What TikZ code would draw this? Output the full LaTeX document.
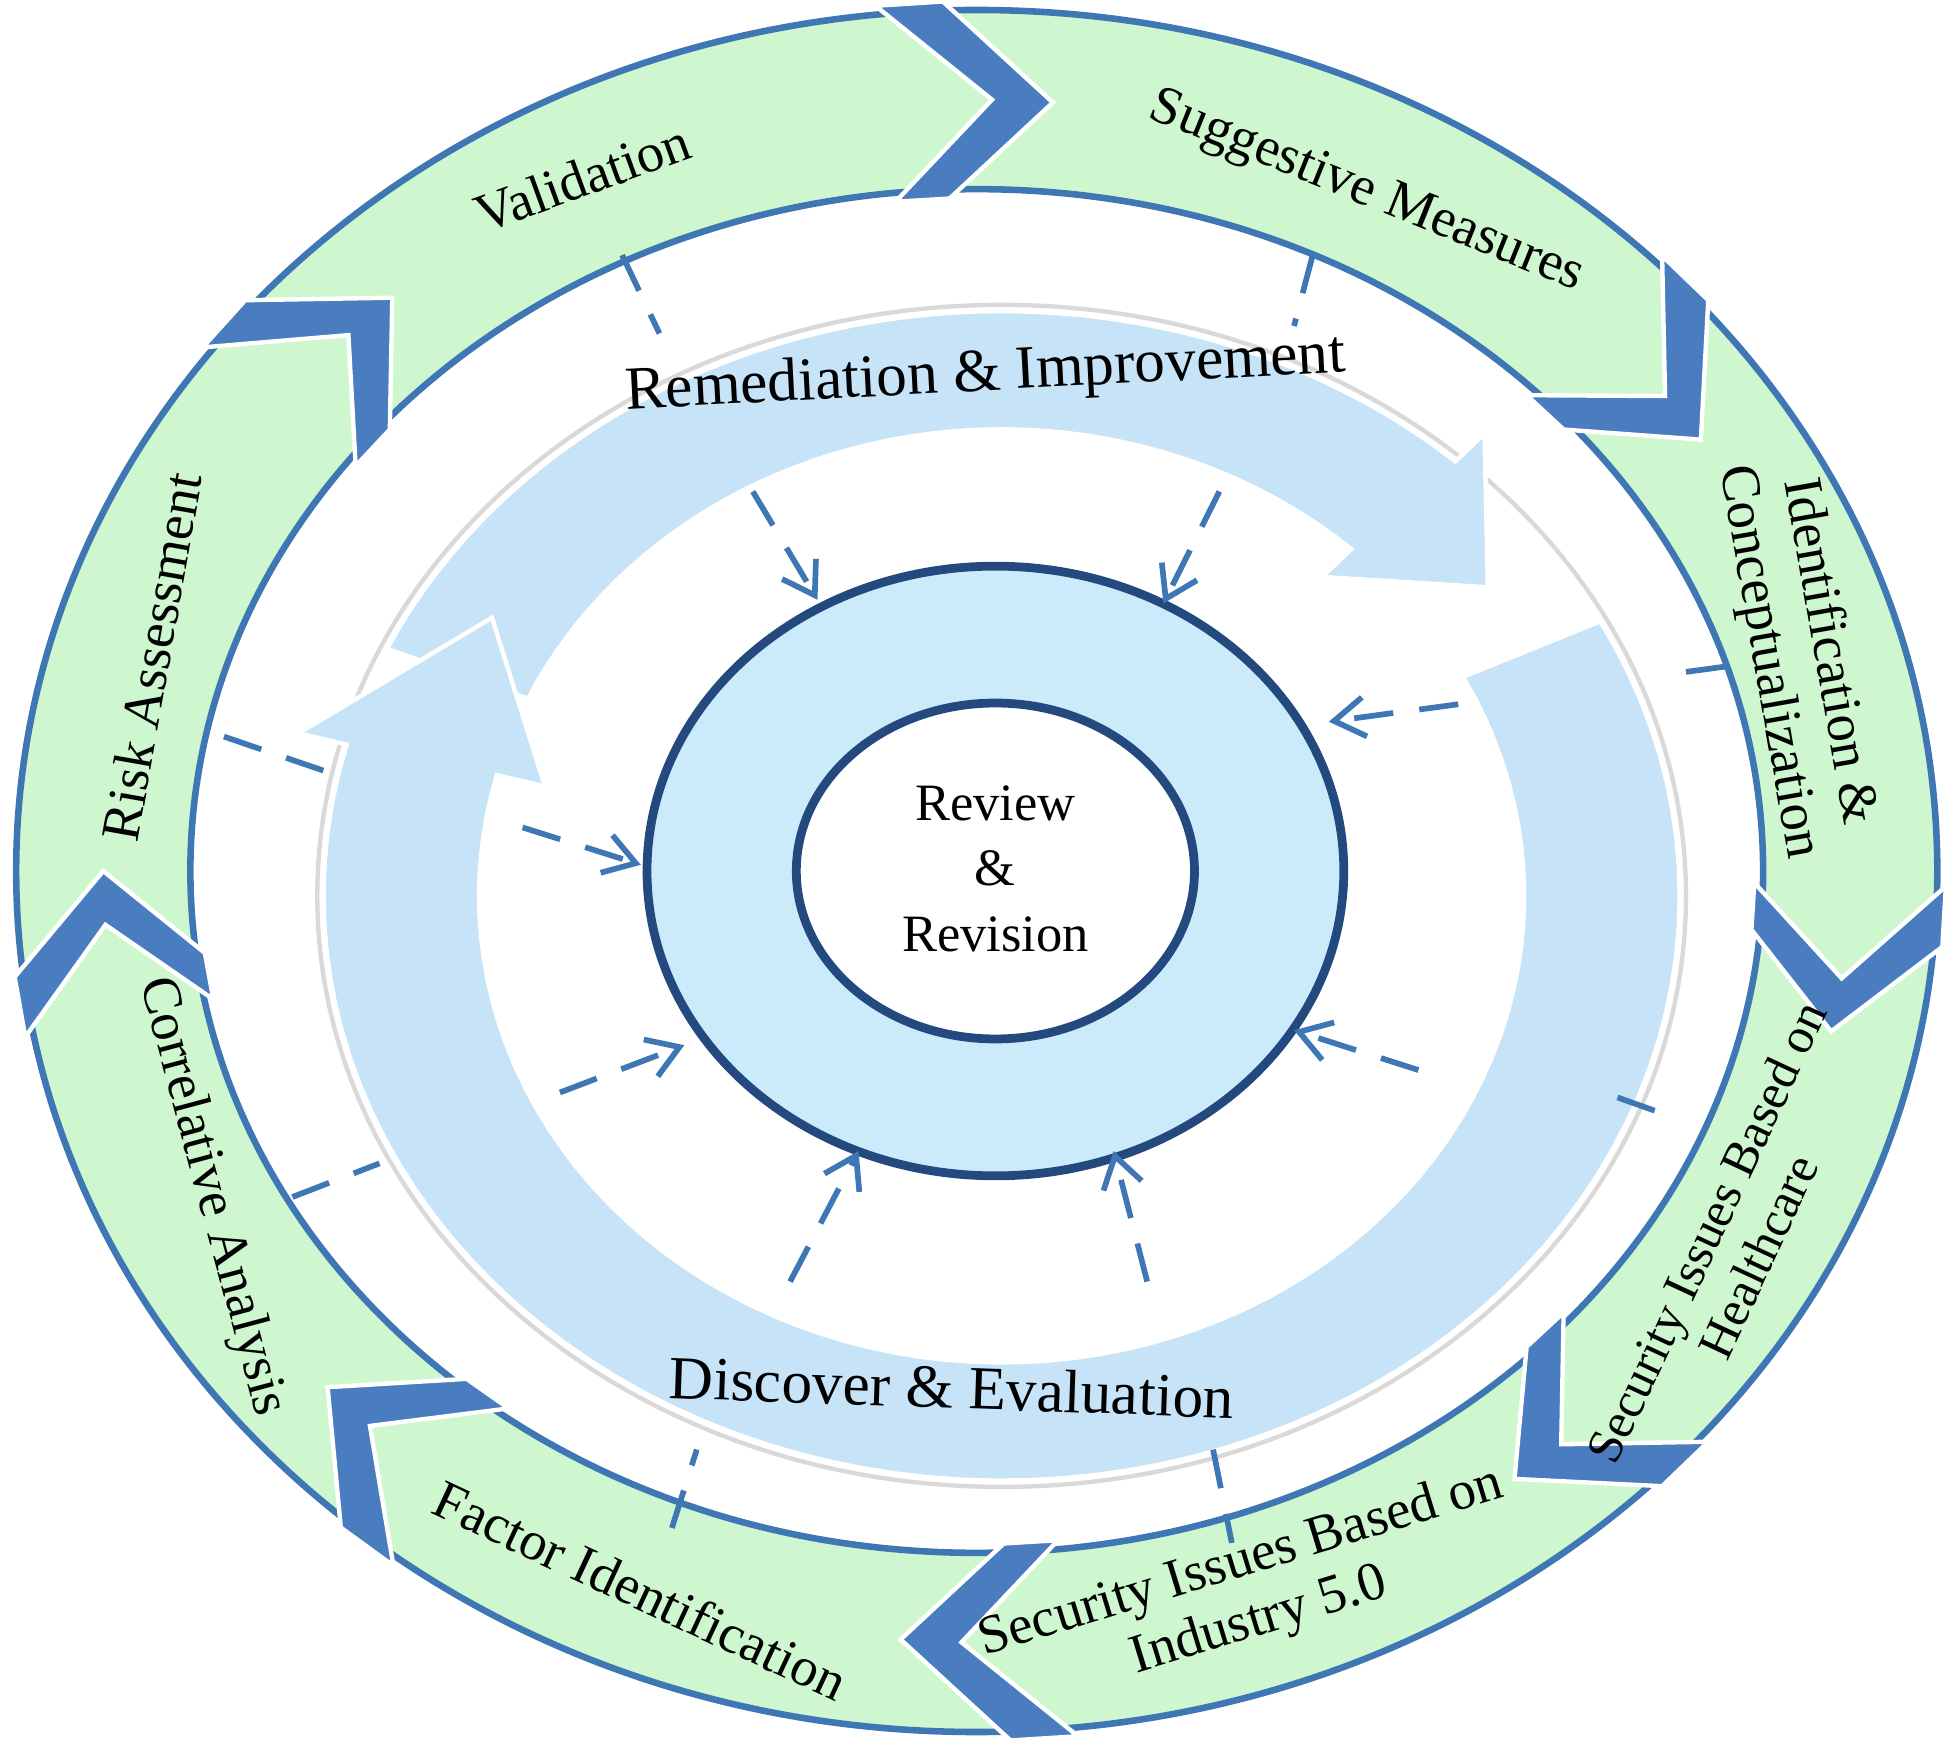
\documentclass[tikz,border=0pt]{standalone}
\usepackage{fontspec}
\setmainfont{Liberation Serif}
\usetikzlibrary{arrows.meta}
\definecolor{bandgreen}{HTML}{CFF7CF}
\definecolor{lineblue}{HTML}{3F76B4}
\definecolor{chev}{HTML}{4A7CC0}
\definecolor{arrowblue}{HTML}{C6E3F7}
\definecolor{ringblue}{HTML}{CBEBFB}
\definecolor{darkblue}{HTML}{24497F}
\begin{document}
\begin{tikzpicture}[x=0.01cm,y=-0.01cm,
  lbl/.style={font=\fontsize{12.5}{14}\selectfont,align=center},
  big/.style={font=\fontsize{14}{16}\selectfont},
  dl/.style={lineblue,line width=1.3pt,dash pattern=on 9pt off 6pt},
  da/.style={dl,-{Straight Barb[length=7pt,width=9pt]}}]
\useasboundingbox (0,0) rectangle (1568,1411);
% outer band
\fill[bandgreen,even odd rule] (785,700) ellipse [x radius=772,y radius=692] (785,700) ellipse [x radius=632,y radius=548];
\draw[lineblue,line width=1.5pt] (785,700) ellipse [x radius=772,y radius=692];
\draw[lineblue,line width=1.5pt] (785,700) ellipse [x radius=632,y radius=548];
% chevrons
\foreach \t in {85,34,-12,-52,-95,-138,-180,132}{
 \fill[chev,draw=white,line width=1pt]
  ({785+(632+140*1.05)*cos(\t+7)},{700-(548+144*1.05)*sin(\t+7)}) --
  ({785+(632+70)*cos(\t)},{700-(548+72)*sin(\t)}) --
  ({785+(632-140*0.05)*cos(\t+7)},{700-(548-144*0.05)*sin(\t+7)}) --
  ({785+(632-140*0.05)*cos(\t+11)},{700-(548-144*0.05)*sin(\t+11)}) --
  ({785+(632+70)*cos(\t+4)},{700-(548+72)*sin(\t+4)}) --
  ({785+(632+140*1.05)*cos(\t+11)},{700-(548+144*1.05)*sin(\t+11)}) -- cycle;
}
% middle region outline
\draw[gray!30,line width=1pt] (805,720) ellipse [x radius=550,y radius=475];
% top arrow
\fill[arrowblue,draw=white,line width=1pt]
 plot[domain=155:48,samples=50] ({805+545*cos(\x)},{720-470*sin(\x)}) --
 ({805+580*cos(48)},{720-500*sin(48)}) --
 ({805+483*cos(36)},{720-422*sin(36)}) --
 ({805+385*cos(48)},{720-345*sin(48)}) --
 plot[domain=48:155,samples=50] ({805+420*cos(\x)},{720-375*sin(\x)}) -- cycle;
% bottom arrow
\fill[arrowblue,draw=white,line width=1pt]
 plot[domain=28:-195,samples=80] ({805+545*cos(\x)},{720-470*sin(\x)}) --
 ({805+585*cos(-195)},{720-505*sin(-195)}) --
 ({805+483*cos(-212)},{720-422*sin(-212)}) --
 ({805+380*cos(-195)},{720-340*sin(-195)}) --
 plot[domain=-195:28,samples=80] ({805+420*cos(\x)},{720-375*sin(\x)}) -- cycle;
% inner ring
\fill[ringblue,even odd rule] (800,700) ellipse [x radius=280,y radius=245] (800,700) ellipse [x radius=160,y radius=135];
\draw[darkblue,line width=2pt] (800,700) ellipse [x radius=280,y radius=245];
\draw[darkblue,line width=2pt] (800,700) ellipse [x radius=160,y radius=135];
\node[lbl,font=\fontsize{12}{15}\selectfont] (center) at (800,698) {Review\\\&\\Revision};
% dashed connectors
\coordinate (a1) at (500,205); \coordinate (b1) at (530,268);
\coordinate (a2) at (1055,205); \coordinate (b2) at (1040,262);
\coordinate (a3) at (1355,540); \coordinate (b3) at (1392,535);
\coordinate (a4) at (1300,882); \coordinate (b4) at (1345,898);
\coordinate (a5) at (540,1228); \coordinate (b5) at (560,1165);
\coordinate (a6) at (975,1165); \coordinate (b6) at (990,1240);
\coordinate (a7) at (180,592); \coordinate (b7) at (262,620);
\coordinate (a8) at (235,962); \coordinate (b8) at (305,935);
\foreach \i in {1,...,8}{\draw[dl] (a\i) -- (b\i);}
\coordinate (c1) at (605,395); \coordinate (d1) at (657,482);
\coordinate (c2) at (980,395); \coordinate (d2) at (935,485);
\coordinate (c3) at (1172,566); \coordinate (d3) at (1068,580);
\coordinate (c4) at (1140,860); \coordinate (d4) at (1040,828);
\coordinate (c5) at (922,1030); \coordinate (d5) at (895,925);
\coordinate (c6) at (635,1030); \coordinate (d6) at (690,925);
\coordinate (c7) at (450,878); \coordinate (d7) at (550,840);
\coordinate (c8) at (420,665); \coordinate (d8) at (515,695);
\foreach \i in {1,...,8}{\draw[da] (c\i) -- (d\i);}
% labels
\node[lbl,rotate=20] (validation) at (468,143) {Validation};
\node[lbl,rotate=-22] (suggest) at (1098,155) {Suggestive Measures};
\node[lbl,rotate=-80] (ident) at (1445,528) {Identification \&\\Conceptualization};
\node[lbl,font=\fontsize{11.5}{13}\selectfont,rotate=65] (health) at (1392,1000) {Security Issues Based on\\Healthcare};
\node[lbl,rotate=17] (industry) at (1005,1280) {Security Issues Based on\\Industry 5.0};
\node[lbl,rotate=-25] (factor) at (515,1278) {Factor Identification};
\node[lbl,rotate=-75] (corr) at (170,962) {Correlative Analysis};
\node[lbl,rotate=80] (risk) at (122,528) {Risk Assessment};
\node[big,rotate=3] (remed) at (792,302) {Remediation \& Improvement};
\node[big,rotate=-2] (disc) at (765,1115) {Discover \& Evaluation};
\end{tikzpicture}
\end{document}
